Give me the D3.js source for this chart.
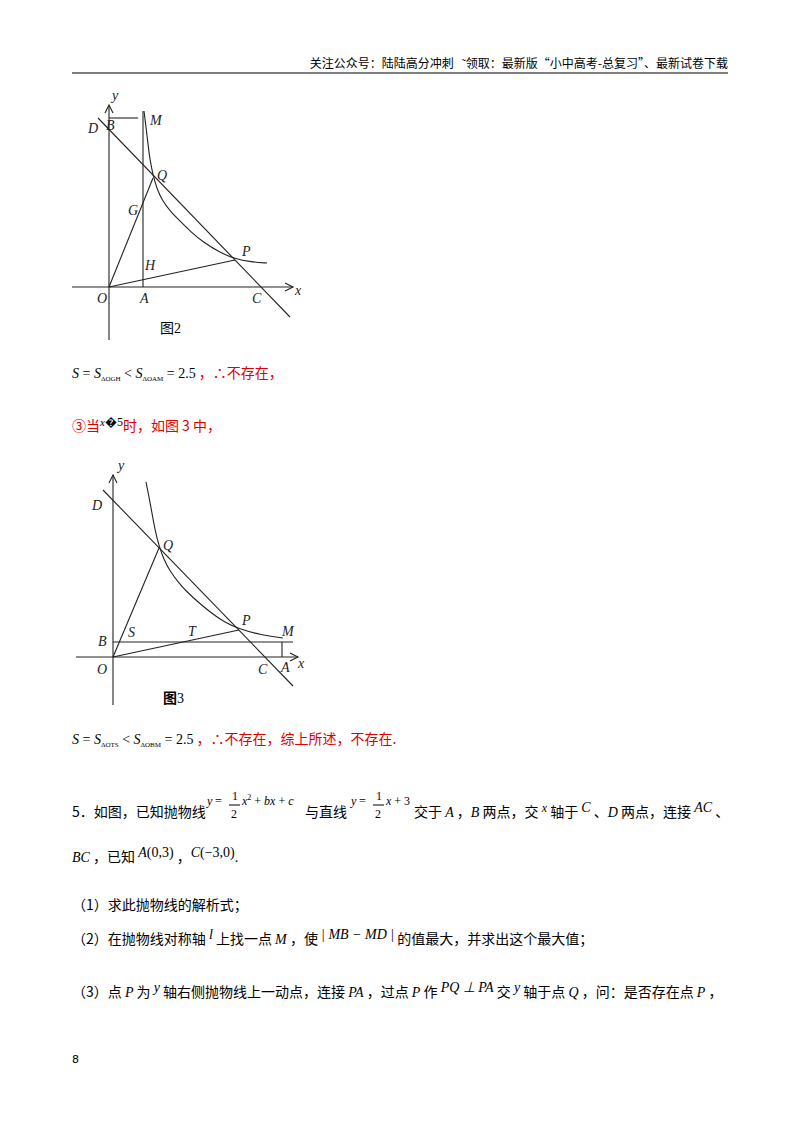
<!DOCTYPE html><html><head><meta charset="utf-8">
<script src="https://cdn.jsdelivr.net/npm/d3@7"></script>
<style>body{margin:0;background:#fff}</style></head><body>
<script>
// Figure 2 data (units relative to origin O, y up)
const fig2Line = [[-11,169],[181,-30]];
const fig2Hyper = [[35,176],[37,160],[39,143],[41,127],[44,112],[48,98],[53,87],[61,76],[71,66],[82,55],[94,45],[110,35],[126,28],[142,25],[158,24]];
const fig2Segs = [[[0,0],[44,109]],[[0,0],[126,27]],[[34,0],[34,176]],[[0,169],[29,169]]];
const fig2Labels = [["y",3,187],["D",-21,154],["B",-3,157],["M",41,162],["Q",48,107],["G",19,72],["H",36,17],["P",133,31],["O",-12,-16],["A",31,-16],["C",143,-16],["x",186,-8]];
// Figure 3 data
const fig3Line = [[-10,167],[180,-29]];
const fig3Hyper = [[33,175],[36,160],[39,144],[42,127],[46,111],[51,97],[57,86],[65,75],[74,65],[85,55],[97,45],[111,35],[126,28],[148,22],[170,19]];
const fig3Segs = [[[0,0],[46,109]],[[0,0],[126,27]],[[0,15],[180,15]],[[169,0],[169,15]]];
const fig3Labels = [["y",5,187],["D",-21,147],["Q",50,107],["B",-15,11],["S",15,20],["T",75,21],["P",129,32],["M",169,21],["O",-16,-17],["C",145,-17],["A",168,-15],["x",185,-11]];

const W=800,H=1132;
const svg=d3.select("body").append("svg").attr("width",W).attr("height",H);
const cjk="Noto Sans CJK SC", serif="Liberation Serif";
svg.append("text").attr("x",728).attr("y",68).attr("text-anchor","end").attr("font-size",12).attr("font-family",cjk).attr("xml:space","preserve").text("关注公众号：陆陆高分冲刺   ˜领取：最新版“小中高考-总复习”、最新试卷下载");
svg.append("line").attr("x1",72).attr("x2",728).attr("y1",73).attr("y2",73).attr("stroke","#000").attr("stroke-width",1.2);

function figure(ox,oy,cfg){
  const x=d3.scaleLinear().domain([0,1]).range([ox,ox+1]);
  const y=d3.scaleLinear().domain([0,1]).range([oy,oy-1]);
  const g=svg.append("g").attr("stroke","#222").attr("fill","none").attr("stroke-width",1.1);
  const L=(a,b)=>g.append("line").attr("x1",x(a[0])).attr("y1",y(a[1])).attr("x2",x(b[0])).attr("y2",y(b[1]));
  L([-37,0],[cfg.xaxis,0]); L([0,-cfg.ybot],[0,cfg.yaxis]);
  g.append("path").attr("d",`M${x(cfg.xaxis)-8},${y(0)-4}L${x(cfg.xaxis)},${y(0)}L${x(cfg.xaxis)-8},${y(0)+4}`);
  g.append("path").attr("d",`M${x(0)-4},${y(cfg.yaxis)+8}L${x(0)},${y(cfg.yaxis)}L${x(0)+4},${y(cfg.yaxis)+8}`);
  L(cfg.line[0],cfg.line[1]);
  g.append("path").attr("d",d3.line().x(d=>x(d[0])).y(d=>y(d[1])).curve(d3.curveBasis)(cfg.hyper));
  cfg.segs.forEach(s=>L(s[0],s[1]));
  const t=svg.append("g").attr("font-family",serif).attr("font-style","italic").attr("font-size",14).attr("fill","#222");
  cfg.labels.forEach(l=>t.append("text").attr("x",x(l[1])).attr("y",y(l[2])).text(l[0]));
  const c=svg.append("text").attr("x",cfg.cap[0]).attr("y",cfg.cap[1]).attr("font-size",14);
  c.append("tspan").attr("font-family",cjk).attr("font-weight",cfg.capBold?"bold":"normal").text("图");
  c.append("tspan").attr("font-family",serif).text(cfg.cap[2]);
}
figure(109,287,{xaxis:184,yaxis:182,ybot:53,line:fig2Line,hyper:fig2Hyper,segs:fig2Segs,labels:fig2Labels,cap:[160,333,"2"]});
figure(113,657,{xaxis:185,yaxis:182,ybot:48,line:fig3Line,hyper:fig3Hyper,segs:fig3Segs,labels:fig3Labels,cap:[163,703,"3"],capBold:true});

function line(xx,yy,parts){
  const t=svg.append("text").attr("x",xx).attr("y",yy).attr("font-size",14).attr("xml:space","preserve");
  parts.forEach(p=>t.append("tspan").attr("font-family",p.f||(p.i?serif:cjk)).attr("font-style",p.i?"italic":"normal").attr("fill",p.c||"#000").attr("font-size",p.s||14).attr("dy",p.dy||0).text(p.t));
}
const R="#e00000";
line(72,378,[{t:"S",i:1},{t:" = ",f:serif},{t:"S",i:1},{t:"ΔOGH",s:7,dy:3,f:serif},{t:" < ",dy:-3,f:serif},{t:"S",i:1},{t:"ΔOAM",s:7,dy:3,f:serif},{t:" = 2.5",dy:-3,f:serif},{t:" ，∴不存在，",c:R}]);
line(72,431,[{t:"③当",c:R},{t:"x",i:1,s:11,dy:-5},{t:"�5",s:12,f:serif},{t:"时，如图 3 中，",c:R,dy:5}]);
line(72,744,[{t:"S",i:1},{t:" = ",f:serif},{t:"S",i:1},{t:"ΔOTS",s:7,dy:3,f:serif},{t:" < ",dy:-3,f:serif},{t:"S",i:1},{t:"ΔOBM",s:7,dy:3,f:serif},{t:" = 2.5",dy:-3,f:serif},{t:" ，∴不存在，综上所述，不存在.",c:R}]);
const tx=(x,y,s,o={})=>svg.append("text").attr("x",x).attr("y",y).attr("font-size",o.s||14).attr("font-family",o.f||cjk).attr("font-style",o.i?"italic":"normal").text(s);
const frac=(x,y)=>{tx(x+3,y-11,"1",{f:serif,s:12});tx(x+2,y+7,"2",{f:serif,s:12});svg.append("line").attr("x1",x).attr("x2",x+11).attr("y1",y-6).attr("y2",y-6).attr("stroke","#000");};
line(72,817,[{t:"5．如图，已知抛物线"}]);
tx(207,805,"y",{f:serif,i:1,s:12});tx(215,805,"=",{f:serif,s:12});frac(229,811);
line(242,805,[{t:"x",i:1,s:12},{t:"2",s:8,dy:-5,f:serif},{t:" + ",s:12,dy:5,f:serif},{t:"bx",i:1,s:12},{t:" + ",s:12,f:serif},{t:"c",i:1,s:12}]);
line(305,817,[{t:"与直线"}]);
tx(351,805,"y",{f:serif,i:1,s:12});tx(359,805,"=",{f:serif,s:12});frac(373,811);
line(386,805,[{t:"x",i:1,s:12},{t:" + 3",s:12,f:serif}]);
line(414,817,[{t:"交于 "},{t:"A",i:1},{t:" ，"},{t:"B",i:1},{t:" 两点，交 "},{t:"x",i:1,s:12,dy:-5},{t:" 轴于 ",dy:5},{t:"C",i:1,dy:-5},{t:" 、",dy:5},{t:"D",i:1},{t:" 两点，连接 "},{t:"AC",i:1,dy:-5},{t:" 、",dy:5}]);
line(72,862,[{t:"BC",i:1},{t:" ，已知 "},{t:"A",i:1,dy:-5},{t:"(0,3)",f:serif},{t:" ，",dy:5},{t:"C",i:1,dy:-5},{t:"(−3,0)",f:serif},{t:".",dy:5,f:serif}]);
line(72,910,[{t:"（1）求此抛物线的解析式；"}]);
line(72,944,[{t:"（2）在抛物线对称轴 "},{t:"l",i:1,dy:-5},{t:" 上找一点 ",dy:5},{t:"M",i:1},{t:" ，使 "},{t:"| MB − MD |",i:1,dy:-5},{t:" 的值最大，并求出这个最大值；",dy:5}]);
line(72,997,[{t:"（3）点 "},{t:"P",i:1},{t:" 为 "},{t:"y",i:1,dy:-5},{t:" 轴右侧抛物线上一动点，连接 ",dy:5},{t:"PA",i:1},{t:" ，过点 "},{t:"P",i:1},{t:" 作 "},{t:"PQ ⊥ PA",i:1,dy:-5},{t:" 交 ",dy:5},{t:"y",i:1,dy:-5},{t:" 轴于点 ",dy:5},{t:"Q",i:1},{t:" ，问：是否存在点 "},{t:"P",i:1},{t:" ，"}]);
tx(72,1063,"8",{s:11,f:"DejaVu Sans"});
</script></body></html>
